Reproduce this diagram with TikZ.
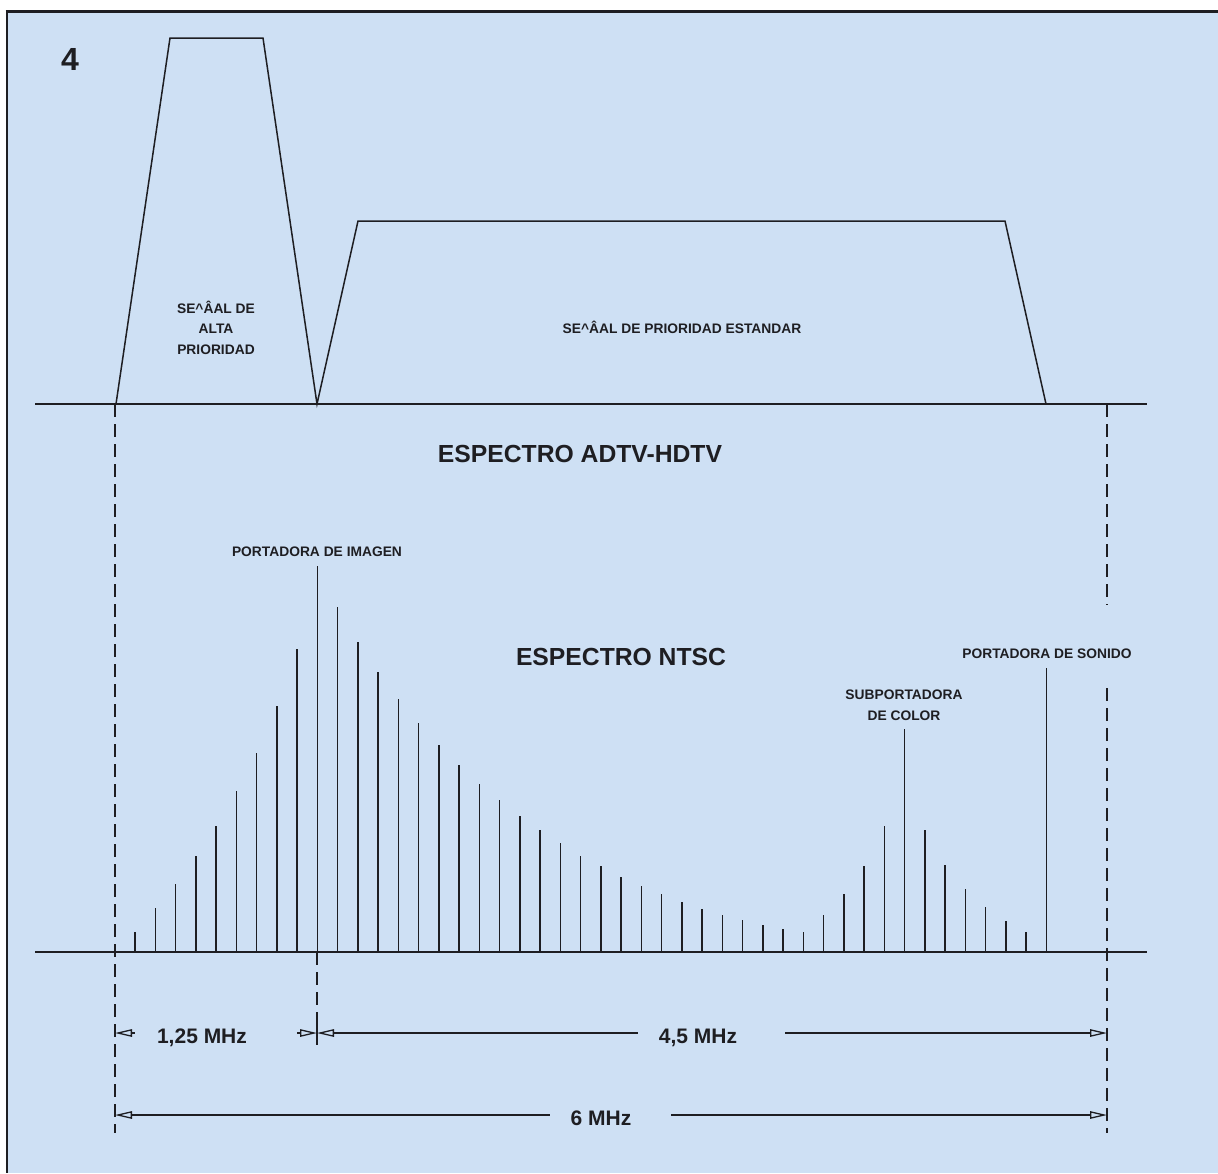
\documentclass[tikz,border=0pt]{standalone}
\usepackage{fontspec}
\setmainfont{Liberation Sans}
\usetikzlibrary{arrows.meta}
\definecolor{bgblue}{RGB}{206,224,244}
\definecolor{ink}{RGB}{30,30,34}
\tikzset{
  baseline rule/.style={line width=1.5pt, draw=ink},
  sigline/.style={line width=1.5pt, draw=ink, line join=miter},
  specline/.style={line width=1.5pt, draw=ink},
  guide/.style={line width=1.4pt, draw=ink, dash pattern=on 13pt off 7pt},
  dimline/.style={line width=1.3pt, draw=ink},
  dimtip/.tip={Triangle[open, length=17pt, width=7.5pt, line width=1.3pt]},
  smalllabel/.style={text=ink, inner sep=0pt, anchor=base, font=\fontsize{13.8}{16}\selectfont\bfseries},
  biglabel/.style={text=ink, inner sep=0pt, anchor=base, font=\fontsize{24.7}{28}\selectfont\bfseries},
  mhzlabel/.style={text=ink, inner sep=0pt, anchor=base, font=\fontsize{21}{24}\selectfont\bfseries}
}
\begin{document}
\begin{tikzpicture}[x=1pt,y=-1pt]
\useasboundingbox (0,0) rectangle (1218,1173);
\fill[white] (0,0) rectangle (1218,1173);
\fill[bgblue] (7,11) rectangle (1218,1173);
\draw[line width=3pt, draw=ink] (5.5,11) -- (1218,11);
\draw[line width=2pt, draw=ink] (7,11) -- (7,1173);

% figure number
\node[text=ink, inner sep=0pt, anchor=base, font=\fontsize{32}{36}\selectfont\bfseries] (fignum) at (70,70) {4};

% ADTV-HDTV spectrum
\coordinate (topL) at (35,404);
\coordinate (topR) at (1147,404);
\coordinate (hpA) at (116,404);
\coordinate (hpB) at (170,38);
\coordinate (hpC) at (263,38);
\coordinate (hpD) at (317,404);
\coordinate (spB) at (358,221);
\coordinate (spC) at (1005,221);
\coordinate (spD) at (1046,404);
\draw[baseline rule] (topL) -- (topR);
\draw[sigline] (hpA) -- (hpB) -- (hpC) -- (hpD) -- (spB) -- (spC) -- (spD);

\node[smalllabel] (hp1) at (216,313) {SE\textasciicircum ÂAL DE};
\node[smalllabel] (hp2) at (216,333) {ALTA};
\node[smalllabel] (hp3) at (216,354) {PRIORIDAD};
\node[smalllabel] (sp) at (682,333) {SE\textasciicircum ÂAL DE PRIORIDAD ESTANDAR};
\node[biglabel] (adtv) at (580,462) {ESPECTRO ADTV-HDTV};

% NTSC spectrum
\coordinate (botL) at (35,952);
\coordinate (botR) at (1147,952);
\draw[baseline rule] (botL) -- (botR);
\foreach \k/\t in {0/932,1/908,2/884,3/856,4/826,5/791,6/753,7/706,8/649,9/566,
  10/607,11/642,12/672,13/699,14/723,15/745,16/765,17/784,18/800,19/816,
  20/830,21/843,22/856,23/866,24/877,25/886,26/894,27/902,28/909,29/915,
  30/920,31/925,32/929,33/932,34/915,35/894,36/866,37/826,38/729,39/830,
  40/865,41/889,42/907,43/921,44/932,45/668}
  \draw[specline] ({135+20.25*\k},952) -- ({135+20.25*\k},\t);

\node[smalllabel] (pim) at (317,556) {PORTADORA DE IMAGEN};
\node[smalllabel] (pson) at (1047,658) {PORTADORA DE SONIDO};
\node[smalllabel] (sub1) at (904,699) {SUBPORTADORA};
\node[smalllabel] (sub2) at (904,720) {DE COLOR};
\node[biglabel] (ntsc) at (621,665) {ESPECTRO NTSC};

% guide lines
\coordinate (gLtop) at (115,404);
\coordinate (gLbot) at (115,1133);
\coordinate (gMtop) at (317,952);
\coordinate (gMbot) at (317,1052);
\coordinate (gRtop) at (1107,404);
\coordinate (gRmid1) at (1107,605);
\coordinate (gRmid2) at (1107,688);
\coordinate (gRbot) at (1107,1133);
\draw[guide] (gLtop) -- (gLbot);
\draw[guide] (gMtop) -- (gMbot);
\draw[guide] (gRtop) -- (gRmid1);
\draw[guide] (gRmid2) -- (gRbot);

% dimensions
\coordinate (d1L) at (115,1033);
\coordinate (d1Ls) at (135,1033);
\coordinate (d1Rs) at (297,1033);
\coordinate (d1R) at (317,1033);
\coordinate (d2Le) at (638,1033);
\coordinate (d2Rs) at (785,1033);
\coordinate (d2R) at (1107,1033);
\coordinate (d3L) at (115,1115);
\coordinate (d3Le) at (550,1115);
\coordinate (d3Rs) at (671,1115);
\coordinate (d3R) at (1107,1115);
\draw[dimline, dimtip-] (d1L) -- (d1Ls);
\draw[dimline, -dimtip] (d1Rs) -- (d1R);
\draw[dimline, dimtip-] (d1R) -- (d2Le);
\draw[dimline, -dimtip] (d2Rs) -- (d2R);
\draw[dimline, dimtip-] (d3L) -- (d3Le);
\draw[dimline, -dimtip] (d3Rs) -- (d3R);
\draw[line width=1.4pt, draw=ink] (317,1025) -- (317,1045);

\node[mhzlabel] (m125) at (202,1043) {1,25 MHz};
\node[mhzlabel] (m45) at (698,1043) {4,5 MHz};
\node[mhzlabel] (m6) at (601,1125) {6 MHz};
\end{tikzpicture}
\end{document}
